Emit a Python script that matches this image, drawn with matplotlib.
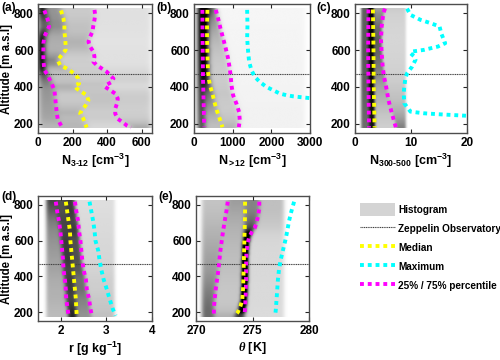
import numpy as np
import matplotlib
matplotlib.use('Agg')
import matplotlib.pyplot as plt
from matplotlib.lines import Line2D
from matplotlib.patches import Patch
from matplotlib.colors import PowerNorm

plt.rcParams['font.family'] = ['Liberation Sans', 'DejaVu Sans']
plt.rcParams['font.weight'] = 'bold'
plt.rcParams['mathtext.fontset'] = 'custom'
plt.rcParams['mathtext.bf'] = 'Liberation Sans:bold'
plt.rcParams['mathtext.rm'] = 'Liberation Sans:bold'
plt.rcParams['mathtext.it'] = 'Liberation Serif:italic'
plt.rcParams['mathtext.default'] = 'bf'

# ---- data (altitude in m a.s.l.) ----
# (a) N3-12
a_alt_p25 = [815, 782, 755, 727, 700, 673, 636, 600, 545, 491, 464, 436, 409, 382, 345, 309, 264, 227, 200, 180]
a_p25 = [37, 50, 60, 64, 50, 37, 31, 31, 31, 37, 56, 70, 83, 95, 99, 103, 108, 114, 128, 141]
a_alt_med = [815, 773, 736, 700, 664, 627, 600, 573, 545, 518, 500, 482, 464, 445, 418, 409, 391, 373, 355, 327, 300, 273, 255, 227, 200, 180]
a_med = [133, 147, 153, 153, 157, 160, 160, 137, 114, 128, 166, 195, 219, 234, 238, 215, 224, 253, 282, 292, 276, 253, 244, 263, 273, 282]
a_alt_p75 = [818, 791, 764, 736, 700, 673, 645, 618, 591, 564, 536, 518, 500, 482, 458, 445, 427, 409, 400, 382, 364, 336, 309, 282, 255, 227, 209, 191, 180]
a_p75 = [327, 331, 327, 321, 315, 302, 292, 302, 321, 327, 321, 340, 369, 398, 423, 437, 427, 392, 389, 418, 447, 462, 457, 447, 447, 462, 489, 514, 539]
a_hist_range = (0, 660)      # visible extent of the grey histogram

# (b) N>12
b_alt_p25 = [818, 700, 600, 450, 300, 182]
b_p25 = [217, 220, 225, 233, 250, 265]
b_alt_med = [818, 736, 664, 573, 482, 436, 400, 364, 318, 273, 227, 182]
b_med = [347, 337, 337, 347, 363, 389, 425, 476, 529, 590, 666, 736]
b_alt_p75 = [818, 773, 718, 664, 609, 555, 500, 455, 409, 355, 309, 264, 218, 182]
b_p75 = [562, 622, 684, 752, 821, 881, 925, 951, 969, 1011, 1098, 1166, 1184, 1158]
b_alt_max = [818, 736, 664, 591, 536, 491, 455, 427, 400, 382, 364, 355, 349, 344, 338]
b_max = [1374, 1383, 1374, 1400, 1426, 1486, 1572, 1702, 1874, 2047, 2220, 2392, 2564, 2780, 3050]
b_hist_range = (80, 2900)

# (c) N300-500
c_alt_p25 = [820, 600, 400, 180]
c_p25 = [2.4, 2.35, 2.4, 2.5]
c_alt_med = [820, 600, 400, 180]
c_med = [3.2, 3.3, 3.35, 3.5]
c_alt_p75 = [825, 800, 728, 655, 583, 510, 456, 402, 330, 257, 180]
c_p75 = [5.36, 5.06, 4.76, 4.64, 4.76, 4.94, 5.18, 5.55, 5.97, 6.58, 7.3]
c_alt_max = [825, 791, 764, 746, 728, 691, 637, 619, 601, 592, 583, 565, 547, 510, 474, 447, 402, 366, 311, 266, 257, 252, 248, 243]
c_max = [9.3, 9.9, 11.7, 13.5, 15.1, 15.4, 16.1, 14.8, 12.3, 10.2, 9.9, 10.6, 10.8, 10.2, 9.3, 9.0, 8.8, 8.7, 8.8, 9.9, 12.3, 14.8, 17.2, 20.2]
c_hist_range = (1.0, 9.0)

# (d) r
d_alt = [818, 764, 709, 655, 600, 545, 491, 436, 382, 327, 273, 218, 180]
d_p25 = [1.89, 1.92, 1.96, 1.99, 2.01, 2.03, 2.05, 2.06, 2.09, 2.11, 2.12, 2.15, 2.17]
d_med = [2.11, 2.14, 2.17, 2.20, 2.21, 2.23, 2.25, 2.27, 2.29, 2.31, 2.33, 2.34, 2.35]
d_p75 = [2.31, 2.34, 2.38, 2.40, 2.43, 2.45, 2.47, 2.50, 2.55, 2.57, 2.62, 2.65, 2.68]
d_max = [2.63, 2.67, 2.71, 2.74, 2.76, 2.82, 2.85, 2.89, 2.94, 3.01, 3.07, 3.14, 3.20]
d_hist_range = (1.68, 3.2)

# (e) theta
e_alt = [818, 764, 709, 655, 600, 545, 491, 436, 382, 327, 273, 218, 180]
e_p25 = [272.81, 272.69, 272.54, 272.40, 272.28, 272.16, 272.07, 271.98, 271.86, 271.74, 271.65, 271.58, 271.58]
e_alt_med = [818, 745, 673, 600, 527, 455, 382, 327, 273, 236, 200, 180]
e_med = [274.34, 274.34, 274.31, 274.28, 274.25, 274.22, 274.19, 274.16, 274.10, 273.95, 273.71, 273.44]
e_alt_p75 = [818, 782, 745, 709, 673, 645, 618, 582, 527, 455, 382, 309, 236, 180]
e_p75 = [275.60, 275.60, 275.51, 275.39, 275.21, 274.91, 274.70, 274.55, 274.46, 274.43, 274.43, 274.40, 274.35, 274.30]
e_max = [278.68, 278.44, 278.23, 278.08, 277.90, 277.69, 277.49, 277.34, 277.25, 277.19, 277.13, 277.07, 277.01]
e_hist_range = (270.5, 277.8)

zeppelin_alt = 470

# colours
YEL = '#ffff00'
CYA = '#00ffff'
MAG = '#ff00ff'
DOT = (0, (1, 1))


def histogram(ax, xr, lo, med, hi, mx, vscale=1.0, gamma=1.2):
    # grey shading: piecewise-uniform density between the read quantiles
    alt = np.linspace(175, 825, 66)
    pad = 0.04 * (xr[1] - xr[0])
    x = np.linspace(xr[0] - pad, xr[1] + pad, 220)
    q = [np.full_like(alt, xr[0])]
    for prof in (lo, med, hi):
        q.append(np.interp(alt, prof[0][::-1], prof[1][::-1]))
    q.append(np.full_like(alt, xr[1]))
    eps = 0.015 * (xr[1] - xr[0])
    d = np.zeros((alt.size, x.size))
    for k in range(4):
        a0, a1 = q[k][:, None], q[k + 1][:, None]
        w = np.maximum(a1 - a0, eps)
        d += np.where((x[None, :] >= a0) & (x[None, :] < a1), 0.25 / w, 0)
    # smooth along x
    ker = np.exp(-0.5 * (np.arange(-15, 16) / 5.0) ** 2)
    ker /= ker.sum()
    d = np.array([np.convolve(row, ker, mode='same') for row in d])
    ax.imshow(d, extent=[x[0], x[-1], 175, 825], origin='lower', aspect='auto',
              cmap='gray_r', norm=PowerNorm(gamma, vmin=0, vmax=vscale * np.percentile(d, 98)),
              interpolation='bicubic', zorder=1)


def style(ax, xlim, xticks, xlabel):
    ax.set_xlim(xlim)
    ax.set_ylim(150, 850)
    ax.set_xticks(xticks)
    ax.set_yticks([200, 400, 600, 800])
    ax.tick_params(direction='in', top=True, right=True, length=3, width=0.8,
                   labelsize=8.5, colors='0.15', pad=3)
    for lab in ax.get_xticklabels() + ax.get_yticklabels():
        lab.set_fontweight('bold')
        lab.set_color('black')
    for s in ax.spines.values():
        s.set_color('0.3')
        s.set_linewidth(1.0)
    ax.set_xlabel(xlabel, fontsize=9, fontweight='bold', labelpad=2)
    ax.axhline(zeppelin_alt, color='0.25', lw=0.8, ls=(0, (1, 0.6)), zorder=2)


def lines(ax, lo, med, hi, mx):
    ax.plot(lo[1], lo[0], color=MAG, lw=2.8, ls=DOT, zorder=3)
    ax.plot(hi[1], hi[0], color=MAG, lw=2.8, ls=DOT, zorder=3)
    if mx is not None:
        ax.plot(mx[1], mx[0], color=CYA, lw=2.8, ls=DOT, zorder=3)
    ax.plot(med[1], med[0], color=YEL, lw=2.8, ls=DOT, zorder=4)


fig = plt.figure(figsize=(5, 3.6), dpi=100)
W, H = 500, 360


def add_ax(l, t, w, h):
    return fig.add_axes([l / W, 1 - (t + h) / H, w / W, h / H])


ax_a = add_ax(38, 4, 114, 129)
ax_b = add_ax(194, 4, 116, 129)
ax_c = add_ax(355, 4, 112, 129)
ax_d = add_ax(38, 196, 114, 125)
ax_e = add_ax(196, 196, 113, 125)

ylab = 'Altitude [m a.s.l]'

# (a)
A = ((a_alt_p25, a_p25), (a_alt_med, a_med), (a_alt_p75, a_p75), None)
histogram(ax_a, a_hist_range, *A, vscale=1.5, gamma=1.0)
lines(ax_a, *A)
style(ax_a, (0, 660), [0, 200, 400, 600], r'N$_{3\text{-}12}$ [cm$^{-3}$]')
ax_a.set_ylabel(ylab, fontsize=8.3, fontweight='bold', labelpad=1)

# (b)
B = ((b_alt_p25, b_p25), (b_alt_med, b_med), (b_alt_p75, b_p75), (b_alt_max, b_max))
histogram(ax_b, b_hist_range, *B, vscale=1.0)
lines(ax_b, *B)
style(ax_b, (0, 3000), [0, 1000, 2000, 3000], r'N$_{>12}$ [cm$^{-3}$]')

# (c)
C = ((c_alt_p25, c_p25), (c_alt_med, c_med), (c_alt_p75, c_p75), (c_alt_max, c_max))
histogram(ax_c, c_hist_range, *C, vscale=1.0)
lines(ax_c, *C)
style(ax_c, (0, 20), [0, 10, 20], r'N$_{300\text{-}500}$ [cm$^{-3}$]')

# (d)
D = ((d_alt, d_p25), (d_alt, d_med), (d_alt, d_p75), (d_alt, d_max))
histogram(ax_d, d_hist_range, *D, vscale=1.25)
lines(ax_d, *D)
style(ax_d, (1.5, 4), [2, 3, 4], r'r [g kg$^{-1}$]')
ax_d.set_ylabel(ylab, fontsize=8.3, fontweight='bold', labelpad=1)

# (e)
E = ((e_alt, e_p25), (e_alt_med, e_med), (e_alt_p75, e_p75), (e_alt, e_max))
histogram(ax_e, e_hist_range, *E, vscale=0.8)
lines(ax_e, *E)
style(ax_e, (270, 280), [270, 275, 280], r'$\mathit{\theta}$ [K]')

for lab, x, y in [('(a)', 1, 8), ('(b)', 156, 8), ('(c)', 316, 8), ('(d)', 1, 197), ('(e)', 158, 197)]:
    fig.text(x / W, 1 - y / H, lab, fontsize=8.5, fontweight='bold', va='center')

handles = [
    Patch(facecolor='#d4d4d4', edgecolor='none'),
    Line2D([], [], color='0.25', lw=0.8, ls=(0, (1, 0.6))),
    Line2D([], [], color=YEL, lw=2.8, ls=DOT),
    Line2D([], [], color=CYA, lw=2.8, ls=DOT),
    Line2D([], [], color=MAG, lw=2.8, ls=DOT),
]
labels = ['Histogram', 'Zeppelin Observatory', 'Median', 'Maximum', '25% / 75% percentile']
fig.legend(handles, labels, loc='upper left', bbox_to_anchor=(360 / W, 1 - 203 / H),
           frameon=False, prop={'weight': 'bold', 'size': 7.2},
           handlelength=3.5, handleheight=1.6, handletextpad=0.3,
           labelspacing=0.62, borderpad=0, borderaxespad=0)

fig.savefig('out.png', dpi=100)
